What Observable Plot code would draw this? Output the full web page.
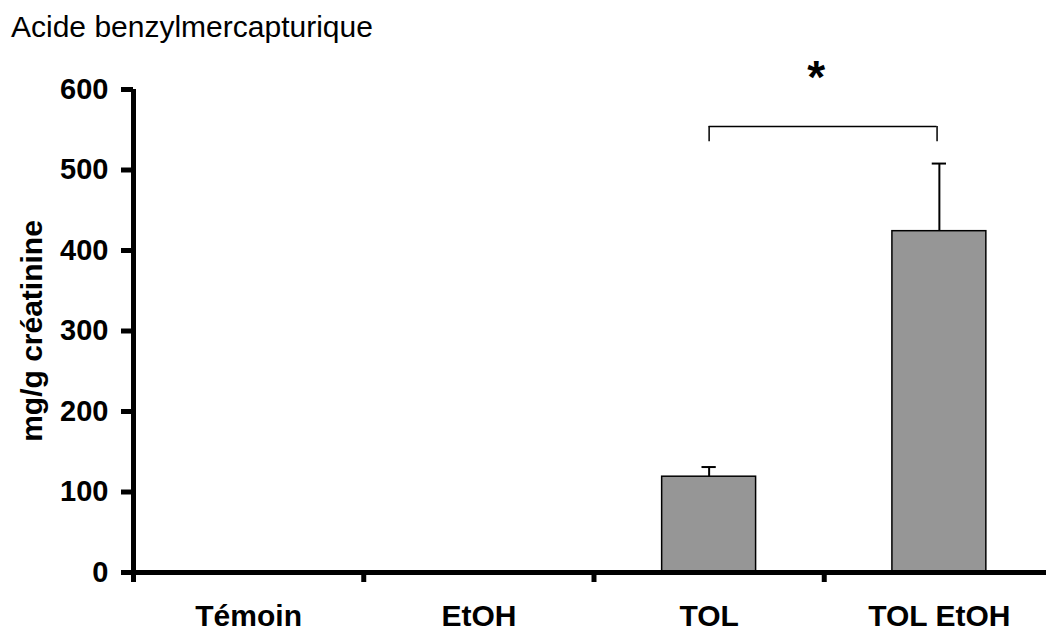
<!DOCTYPE html>
<html>
<head>
<meta charset="utf-8">
<script src="https://cdn.jsdelivr.net/npm/d3@7"></script>
<script src="https://cdn.jsdelivr.net/npm/@observablehq/plot@0.6"></script>
<style>
  html, body { margin: 0; padding: 0; background: #fff; overflow: hidden; }
  #title { font-family: "Liberation Sans", Arial, sans-serif; font-size: 30px; height: 53px; line-height: 53px; padding-left: 11px; color: #000; white-space: nowrap; }
  #chart svg { display: block; }
</style>
</head>
<body>
<div id="title">Acide benzylmercapturique</div>
<div id="chart"></div>
<script>
const categories = ["Témoin", "EtOH", "TOL", "TOL EtOH"];
const means = [null, null, 119, 424];
const errors = [null, null, 12, 84];
const yTicks = [0, 100, 200, 300, 400, 500, 600];
const yLabel = "mg/g créatinine";
const bracket = {from: 2, to: 3, y: 554, leg: 535, label: "*", labelY: 614};

const data = categories.map((c, i) => ({cat: c, i, mean: means[i], err: errors[i]}));
const bars = data.filter(d => d.mean != null);

const font = "'Liberation Sans', Arial, sans-serif";
const half = 0.204;
const capHalf = 0.031;

const chart = Plot.plot({
  width: 1046,
  height: 579,
  marginTop: 36,
  marginBottom: 60,
  marginLeft: 133,
  marginRight: 0,
  style: {fontFamily: font, background: "#fff", overflow: "visible"},
  x: {type: "linear", domain: [0, 4], range: [133, 1054]},
  y: {domain: [0, 600]},
  marks: [
    Plot.rectY(bars, {x1: d => d.i + 0.5 - half, x2: d => d.i + 0.5 + half, y1: 0, y2: "mean", fill: "#969696", stroke: "#000", strokeWidth: 1.5}),
    Plot.ruleX(bars, {x: d => d.i + 0.5, y1: "mean", y2: d => d.mean + d.err, stroke: "#000", strokeWidth: 2}),
    Plot.ruleY(bars, {x1: d => d.i + 0.5 - capHalf, x2: d => d.i + 0.5 + capHalf, y: d => d.mean + d.err, stroke: "#000", strokeWidth: 2}),
    // significance bracket
    Plot.ruleY([bracket], {x1: d => d.from + 0.5, x2: d => d.to + 0.49, y: "y", stroke: "#000", strokeWidth: 1.5}),
    Plot.ruleX([bracket.from + 0.5, bracket.to + 0.49], {x: d => d, y1: bracket.leg, y2: bracket.y, stroke: "#000", strokeWidth: 1.5}),
    Plot.text([bracket], {x: d => (d.from + d.to) / 2 + 0.465, y: "labelY", text: "label", fontSize: 46, fontWeight: "bold", fill: "#000"}),
    // axes
    Plot.axisY({ticks: yTicks, tickSize: 12, tickPadding: 13, strokeWidth: 5, fontSize: 29, fontWeight: "bold", label: null, tickFormat: d => String(d), color: "#000"}),
    Plot.axisX({ticks: [0, 1, 2, 3], tickSize: 10, strokeWidth: 5, tickFormat: () => "", label: null}),
    Plot.ruleY([0], {stroke: "#000", strokeWidth: 5}),
    Plot.ruleX([0], {y1: 0, y2: 600, stroke: "#000", strokeWidth: 5, insetTop: -1}),
    Plot.text(data, {x: d => d.i + 0.5, text: "cat", frameAnchor: "bottom", lineAnchor: "middle", dy: 44, fontSize: 30, fontWeight: "bold", fill: "#000"}),
    Plot.text([yLabel], {frameAnchor: "left", textAnchor: "middle", lineAnchor: "middle", rotate: -90, dx: -101, fontSize: 30, fontWeight: "bold", fill: "#000"})
  ]
});
document.getElementById("chart").appendChild(chart);
</script>
</body>
</html>
